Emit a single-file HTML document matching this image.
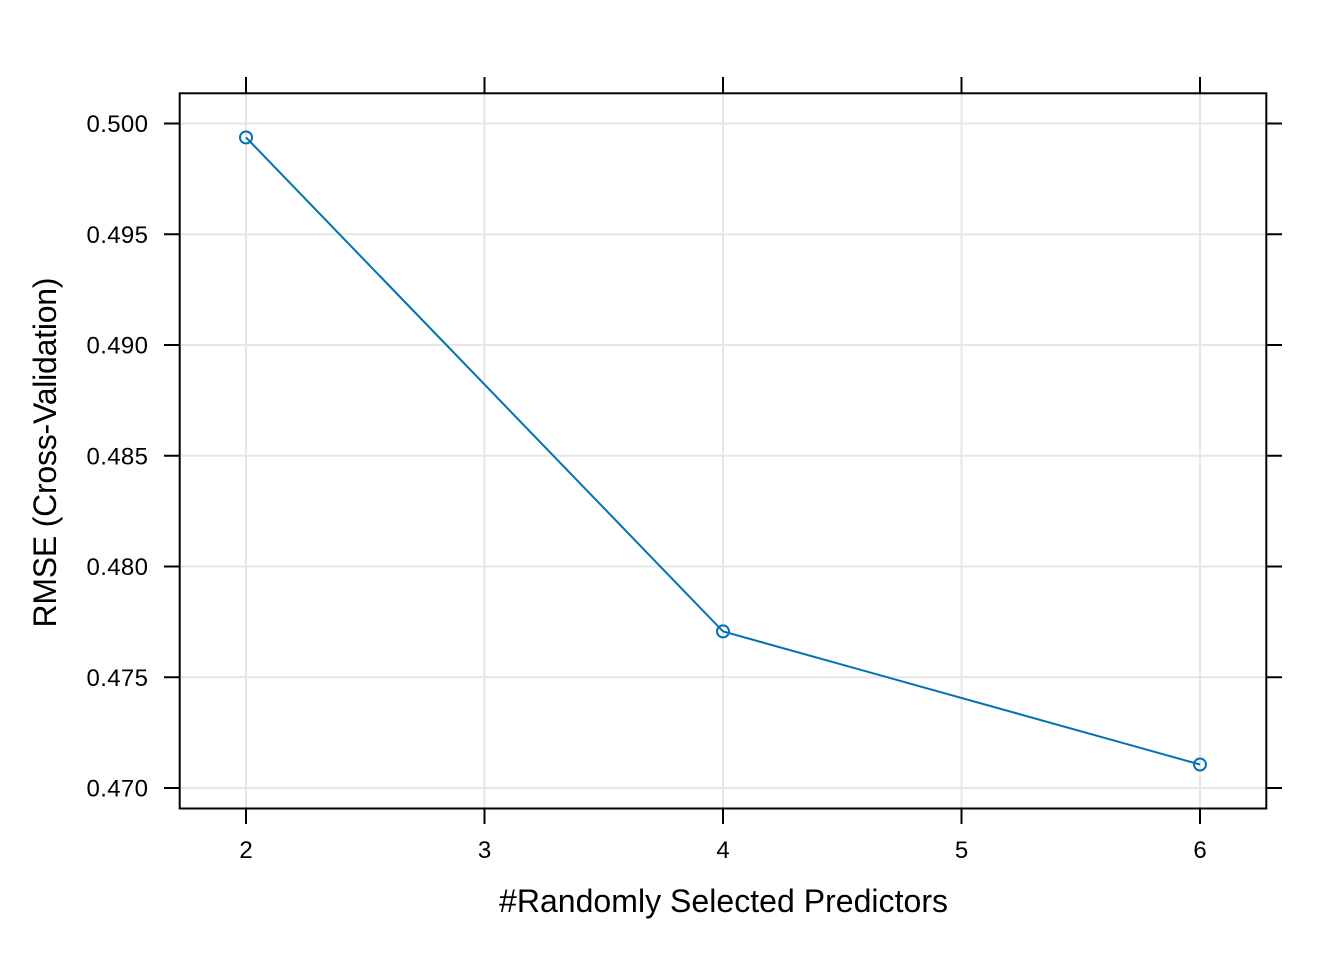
<!DOCTYPE html>
<html>
<head>
<meta charset="utf-8">
<style>
html,body{margin:0;padding:0;background:#fff;width:1344px;height:960px;overflow:hidden}
svg{display:block;font-family:"Liberation Sans",sans-serif}
</style>
</head>
<body>
<svg id="chart" xmlns="http://www.w3.org/2000/svg" width="1344" height="960" viewBox="0 0 1344 960">
<rect width="1344" height="960" fill="#ffffff"/>
<g id="grid"></g>
<g id="ticks"></g>
<g id="labels"></g>
<g id="series"></g>
<rect x="179.7" y="93.3" width="1086.6" height="715.2" fill="none" stroke="#000" stroke-width="2"/>
<text x="723.5" y="912" font-size="32" text-anchor="middle" textLength="449" fill="#000">#Randomly Selected Predictors</text>
<text x="0" y="0" transform="translate(56,452.5) rotate(-90)" font-size="32" text-anchor="middle" textLength="350" fill="#000">RMSE (Cross-Validation)</text>
</svg>
<script>
const xTicks = [2, 3, 4, 5, 6];
const yTicks = [0.470, 0.475, 0.480, 0.485, 0.490, 0.495, 0.500];
const predictors = [2, 4, 6];
const rmseValues = [0.49937, 0.47707, 0.47106];

const NS = 'http://www.w3.org/2000/svg';
function xScale(v) { return 246 + (v - 2) * 238.5; }
function yScale(v) { return 788 - (v - 0.47) * 22150; }
function make(parent, tag, attrs, text) {
  const el = document.createElementNS(NS, tag);
  for (const k in attrs) el.setAttribute(k, attrs[k]);
  if (text !== undefined) el.textContent = text;
  parent.appendChild(el);
  return el;
}
const grid = document.getElementById('grid');
const ticks = document.getElementById('ticks');
const labels = document.getElementById('labels');
const series = document.getElementById('series');
const gridStyle = { stroke: '#e6e6e6', 'stroke-width': 2 };
const tickStyle = { stroke: '#000', 'stroke-width': 2 };

xTicks.forEach(function (t) {
  const x = xScale(t);
  const g = make(grid, 'line', Object.assign({ x1: x, x2: x, y1: 93.5, y2: 808.5 }, gridStyle));
  
  
  const top = make(ticks, 'line', Object.assign({ x1: x, x2: x, y1: 77, y2: 93.5 }, tickStyle));
  
  
  const bottom = make(ticks, 'line', Object.assign({ x1: x, x2: x, y1: 808.5, y2: 824 }, tickStyle));
  
  
  const label = make(labels, 'text', { x: x, y: 858, 'font-size': 24, 'text-anchor': 'middle', fill: '#000' }, String(t));
  
  
});

yTicks.forEach(function (t) {
  const y = yScale(t);
  const g = make(grid, 'line', Object.assign({ x1: 180, x2: 1266, y1: y, y2: y }, gridStyle));
  
  
  const left = make(ticks, 'line', Object.assign({ x1: 164, x2: 180, y1: y, y2: y }, tickStyle));
  
  
  const right = make(ticks, 'line', Object.assign({ x1: 1266, x2: 1282, y1: y, y2: y }, tickStyle));
  
  
  const label = make(labels, 'text', { x: 148, y: y + 8.5, 'font-size': 24, 'text-anchor': 'end', textLength: 61.5, fill: '#000' }, t.toFixed(3));
  
  
});

const pts = predictors.map(function (p, i) { return xScale(p) + ',' + yScale(rmseValues[i]); }).join(' ');
const line = make(series, 'polyline', { points: pts, fill: 'none', stroke: '#0072b2', 'stroke-width': 2 });


predictors.forEach(function (p, i) {
  const c = make(series, 'circle', { cx: xScale(p), cy: yScale(rmseValues[i]), r: 6, fill: 'none', stroke: '#0072b2', 'stroke-width': 2 });
  
  
});
</script>
</body>
</html>
